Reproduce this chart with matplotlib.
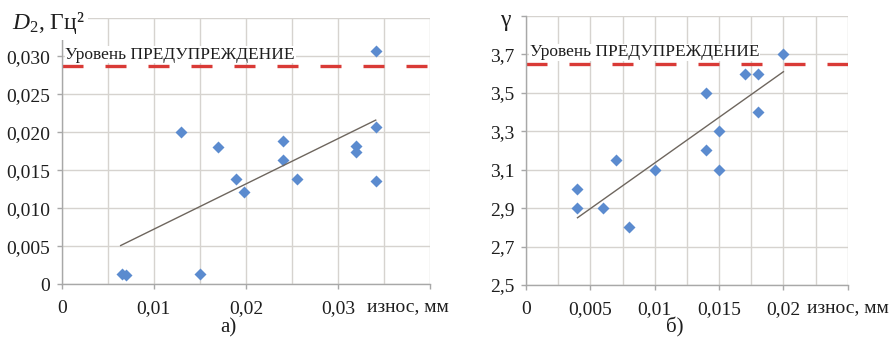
import matplotlib
matplotlib.use('Agg')
import matplotlib.pyplot as plt
import matplotlib.ticker as ticker

plt.rcParams['font.family'] = ['Liberation Serif', 'DejaVu Serif']
plt.rcParams['mathtext.fontset'] = 'custom'
plt.rcParams['mathtext.rm'] = 'Liberation Serif'
plt.rcParams['mathtext.it'] = 'Liberation Serif:italic'

# panel а): D2 vs wear
wear_a = [0.0341, 0.0065, 0.0070, 0.0150, 0.0130, 0.0170, 0.0189, 0.0198,
          0.0240, 0.0240, 0.0256, 0.0320, 0.0320, 0.0341, 0.0341]
d2_a = [0.0307, 0.0014, 0.0012, 0.0013, 0.0201, 0.0181, 0.0138, 0.0122,
        0.0188, 0.0163, 0.0138, 0.0182, 0.0174, 0.0207, 0.0136]
trend_a_x = [0.0064, 0.0341]
trend_a_y = [0.0051, 0.0216]
warn_a = 0.0287

# panel б): gamma vs wear
wear_b = [0.004, 0.004, 0.006, 0.007, 0.008, 0.010, 0.014,
          0.014, 0.015, 0.015, 0.017, 0.018, 0.018, 0.020]
gamma_b = [3.0, 2.9, 2.9, 3.15, 2.8, 3.1, 3.5,
           3.2, 3.3, 3.1, 3.6, 3.6, 3.4, 3.7]
trend_b_x = [0.004, 0.020]
trend_b_y = [2.85, 3.61]
warn_b = 3.648

warn_text = 'Уровень ПРЕДУПРЕЖДЕНИЕ'
xlabel = 'износ, мм'

BLUE = '#5b8bcf'
RED = '#d93a36'
GRID = '#d6d3cf'
SPINE = '#a8a8a8'
TXT = '#1e1e1e'


def comma(fmt, last):
    def f(v, pos):
        if abs(v - last) < 1e-9:
            return ''
        if abs(v) < 1e-12:
            return '0'
        return fmt(v).replace('.', ',')
    return f


def setup(ax, xmax, xmaj, xmin, ymin, ymax, ystep, xfmt, yfmt):
    ax.set_xlim(0, xmax)
    ax.set_ylim(ymin, ymax)
    ax.xaxis.set_major_locator(ticker.MultipleLocator(xmaj))
    ax.xaxis.set_minor_locator(ticker.MultipleLocator(xmin))
    ax.yaxis.set_major_locator(ticker.MultipleLocator(ystep, offset=ymin % ystep))
    ax.xaxis.set_major_formatter(ticker.FuncFormatter(comma(xfmt, xmax)))
    ax.yaxis.set_major_formatter(ticker.FuncFormatter(comma(yfmt, ymax)))
    ax.grid(True, which='both', axis='x', color=GRID, lw=1.0)
    ax.grid(True, which='major', axis='y', color=GRID, lw=1.0)
    ax.set_axisbelow(True)
    for s in ['top', 'right']:
        ax.spines[s].set_visible(False)
    for s in ['left', 'bottom']:
        ax.spines[s].set_color(SPINE)
        ax.spines[s].set_linewidth(1.0)
    ax.tick_params(axis='both', which='major', length=3.5, width=1.0,
                   color=SPINE, labelsize=14, labelcolor=TXT)
    ax.tick_params(axis='x', which='major', pad=8)
    ax.tick_params(axis='y', which='major', pad=5)
    ax.tick_params(axis='x', which='minor', length=0)


fig = plt.figure(figsize=(8.92, 3.39), dpi=100)

# а)
ax1 = fig.add_axes([0.0692, 0.1614, 0.4129, 0.7847])
setup(ax1, 0.04, 0.01, 0.005, 0, 0.035, 0.005,
      lambda v: f'{v:.2f}', lambda v: f'{v:.3f}')
ax1.axhline(warn_a, color=RED, lw=2.4, linestyle=(0, (6.3, 6.6)), zorder=2)
ax1.plot(wear_a, d2_a, 'D', color=BLUE, ms=6.4, mec='none', zorder=3, clip_on=False)
ax1.plot(trend_a_x, trend_a_y, color='#6e665e', lw=1.0, zorder=4)
ax1.text(0.0004, 0.0302, warn_text, fontsize=12.5, color=TXT, va='center', ha='left',
         bbox=dict(facecolor='white', edgecolor='none', pad=0.5), zorder=5)
ax1.text(0.829, -0.085, xlabel, transform=ax1.transAxes, fontsize=14,
         color=TXT, ha='left', va='center')

# б)
ax2 = fig.add_axes([0.5897, 0.1593, 0.3607, 0.7935])
setup(ax2, 0.025, 0.005, 0.0025, 2.5, 3.9, 0.2,
      lambda v: f'{v:.3f}'.rstrip('0').rstrip('.'), lambda v: f'{v:.1f}')
ax2.axhline(warn_b, color=RED, lw=2.4, linestyle=(0, (6.3, 6.6)), zorder=2)
ax2.plot(wear_b, gamma_b, 'D', color=BLUE, ms=6.4, mec='none', zorder=3, clip_on=False)
ax2.plot(trend_b_x, trend_b_y, color='#6e665e', lw=1.0, zorder=4)
ax2.text(0.0003, 3.711, warn_text, fontsize=12.5, color=TXT, va='center', ha='left',
         bbox=dict(facecolor='white', edgecolor='none', pad=0.5), zorder=5)
ax2.text(0.873, -0.085, xlabel, transform=ax2.transAxes, fontsize=14,
         color=TXT, ha='left', va='center')

# axis titles
fig.text(0.0135, 0.932, r'$\mathit{D}_{2}$, Гц²', fontsize=17, color=TXT,
         ha='left', va='center',
         bbox=dict(facecolor='white', edgecolor='none', pad=2.5))
fig.text(0.566, 0.94, 'γ', fontsize=17, color=TXT, ha='center', va='center')

fig.text(0.256, 0.034, 'а)', fontsize=15, color=TXT, ha='center', va='center')
fig.text(0.756, 0.034, 'б)', fontsize=15, color=TXT, ha='center', va='center')

fig.savefig('out.png', dpi=100, facecolor='white')
